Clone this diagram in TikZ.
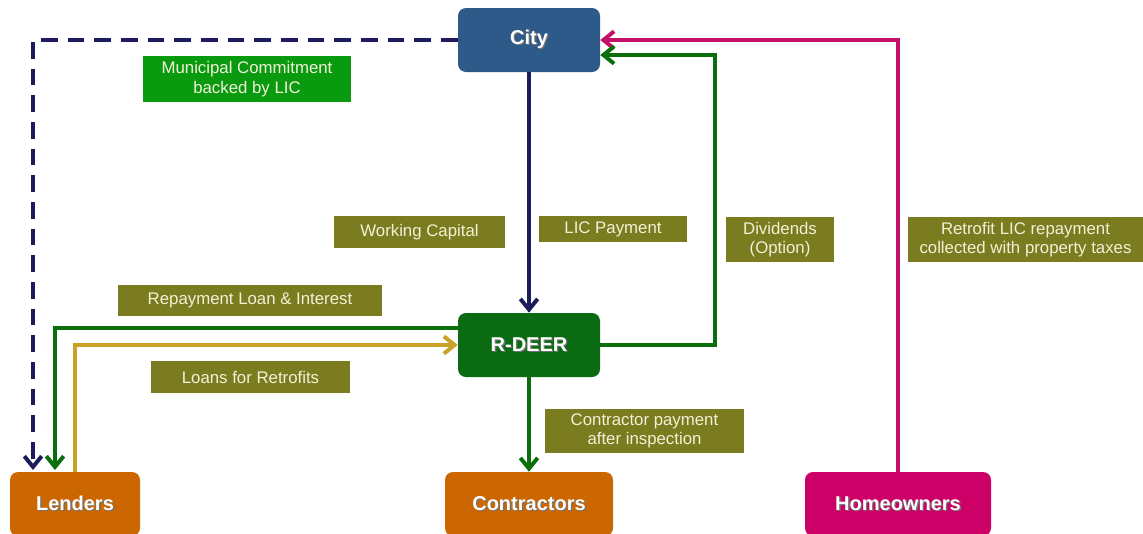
\documentclass[tikz,border=0pt]{standalone}
\usepackage{fontspec}
\setmainfont{Liberation Sans}
\usepackage{xcolor}
\usetikzlibrary{arrows.meta}
\definecolor{BleuVille}{HTML}{2E5A8A}
\definecolor{VertDeer}{HTML}{0B6B12}
\definecolor{Orange}{HTML}{CC6600}
\definecolor{Rose}{HTML}{CC0066}
\definecolor{Marine}{HTML}{1C1C5C}
\definecolor{VertLigne}{HTML}{0A6E0A}
\definecolor{Or}{HTML}{C9A227}
\definecolor{RoseLigne}{HTML}{C4106A}
\definecolor{Olive}{HTML}{7B7B1F}
\definecolor{VertVif}{HTML}{0A9A10}
\definecolor{TexteClair}{HTML}{F2F2D8}
\newcommand\Ombre[1]{\makebox[0pt][l]{\hspace{1pt}\raisebox{-1pt}{\textcolor{black!55}{#1}}}#1}
\tikzset{
Boite/.style={
 rounded corners=6pt, 
 text=white, 
 font=\bfseries\fontsize{15}{17}\selectfont, 
 minimum height=48pt, 
 inner sep=0pt
 },
Etiquette/.style={
 fill=Olive, 
 text=TexteClair, 
 font=\fontsize{12.6}{14.5}\selectfont, 
 align=center, 
 inner sep=0pt
 },
Fleche/.style={
 line width=3pt, 
 -{Straight Barb[length=8pt,width=13pt]}
 },
Tirets/.style={
 dash pattern=on 12.5pt off 7.5pt
 }
}
\begin{document}
\begin{tikzpicture}[x=0.75pt,y=-0.75pt]
\useasboundingbox (0,0) rectangle (1143,533);
% acteurs
\node[Boite,fill=BleuVille,minimum width=106.5pt] (city) at (529,40) {\Ombre{City}};
\node[Boite,fill=VertDeer,minimum width=106.5pt] (deer) at (529,345) {\Ombre{R-DEER}};
\node[Boite,fill=Orange,minimum width=97.5pt] (lenders) at (75,504) {\Ombre{Lenders}};
\node[Boite,fill=Orange,minimum width=126pt] (contractors) at (529,504) {\Ombre{Contractors}};
\node[Boite,fill=Rose,minimum width=139.5pt] (homeowners) at (898,504) {\Ombre{Homeowners}};
% etiquettes
\node[Etiquette,fill=VertVif,minimum width=156pt,minimum height=34.5pt] (commit) at (247,79) {Municipal Commitment\\backed by LIC};
\node[Etiquette,minimum width=128pt,minimum height=24pt] (capital) at (419.5,232) {Working Capital};
\node[Etiquette,minimum width=111pt,minimum height=19.5pt] (licpay) at (613,229) {LIC Payment};
\node[Etiquette,minimum width=81pt,minimum height=34pt] (dividends) at (780,239.5) {Dividends\\(Option)};
\node[Etiquette,minimum width=176pt,minimum height=34pt] (retrofit) at (1025.5,239.5) {Retrofit LIC repayment\\collected with property taxes};
\node[Etiquette,minimum width=198pt,minimum height=23pt] (repay) at (250,300.5) {Repayment Loan \& Interest};
\node[Etiquette,minimum width=149pt,minimum height=24pt] (loans) at (250.5,377) {Loans for Retrofits};
\node[Etiquette,minimum width=149pt,minimum height=33pt] (cpay) at (644.5,431) {Contractor payment\\after inspection};
% coins
\coordinate (coinNO) at (33,40);
\coordinate (pointeL) at (33,470);
\coordinate (pointeG) at (55,470);
\coordinate (coinDiv) at (715,55);
% fleches
\draw[Fleche,Tirets,Marine] (city.west) -- (coinNO) -- (pointeL);
\draw[Fleche,Marine] (city.south) -- (deer.north);
\draw[Fleche,RoseLigne] (homeowners.north) |- (city.east);
\draw[Fleche,VertLigne] (deer.east) -| (coinDiv) -- ([yshift=-11.25pt]city.east);
\draw[Fleche,VertLigne] ([yshift=12.75pt]deer.west) -| (pointeG);
\draw[Fleche,Or] (lenders.north) |- (deer.west);
\draw[Fleche,VertLigne] (deer.south) -- (contractors.north);
\end{tikzpicture}
\end{document}
